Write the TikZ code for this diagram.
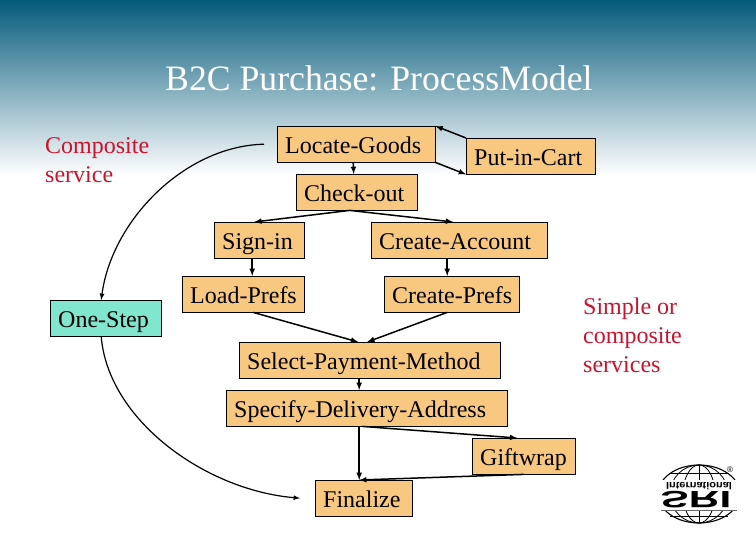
\documentclass[tikz,border=0pt]{standalone}
\usepackage{fontspec}
\setmainfont{Liberation Serif}
\newfontfamily\logofont{Liberation Sans}
\usetikzlibrary{calc,arrows,shapes.geometric}
\definecolor{slidetop}{RGB}{4,90,122}
\definecolor{boxorange}{RGB}{249,200,128}
\definecolor{boxteal}{RGB}{128,230,205}
\definecolor{notered}{RGB}{200,20,45}
\tikzset{
  procbox/.style={draw=black,fill=boxorange,anchor=north west,text width=#1,align=left,
    inner xsep=8pt,inner ysep=0pt,minimum height=36pt,text height=20pt,text depth=2pt,
    font=\fontsize{24}{24}\selectfont},
  stepbox/.style={procbox=#1,fill=boxteal},
  flow/.style={->,>=latex,line width=1.5pt},
  bigflow/.style={->,>=latex,line width=1.2pt},
  note/.style={anchor=north west,align=left,inner sep=0pt,text=notered,font=\fontsize{24}{29}\selectfont}
}
\begin{document}
\begin{tikzpicture}[auto,x=1pt,y=-1pt]
\useasboundingbox (0,0) rectangle (756,540);
\shade [top color=slidetop,bottom color=white] (0,0) rectangle (756,175);
\node [anchor=base west,inner sep=0pt,text=white,font=\fontsize{35.7}{36}\selectfont] (title) at (165,91) {B2C Purchase: ProcessModel};
\node [note] (composite) at (45,137) {Composite\\service};
\node [note] (simple) at (583,298) {Simple or\\composite\\services};
% process boxes
\node [procbox=142pt] (locate) at (277,126) {Locate-Goods};
\node [procbox=113pt] (cart) at (466,138) {Put-in-Cart};
\node [procbox=105pt] (check) at (296,174) {Check-out};
\node [procbox=74pt] (signin) at (214,222) {Sign-in};
\node [procbox=160pt] (account) at (371,222) {Create-Account};
\node [procbox=106pt] (load) at (182,276) {\mbox{Load-Prefs}};
\node [procbox=119pt] (prefs) at (384,276) {\mbox{Create-Prefs}};
\node [stepbox=95pt] (onestep) at (50,300) {One-Step};
\node [procbox=245pt] (payment) at (239,342) {Select-Payment-Method};
\node [procbox=265pt] (delivery) at (226,390) {Specify-Delivery-Address};
\node [procbox=87pt] (gift) at (472,438) {Giftwrap};
\node [procbox=81pt] (final) at (315,480) {Finalize};
% connectors
\draw [flow] (cart.north west) -- (locate.north east);
\draw [flow] (locate.south east) -- (cart.south west);
\draw [flow] ([xshift=-3pt]locate.south) -- ([xshift=-3pt]check.north);
\draw [flow] ([xshift=-7pt]check.south) -- ([xshift=-5pt]signin.north);
\draw [flow] ([xshift=-7pt]check.south) -- ([xshift=-6pt]account.north);
\draw [flow] ([xshift=-7pt]signin.south) -- ([xshift=9pt]load.north);
\draw [flow] ([xshift=-12pt]account.south) -- ([xshift=-4.5pt]prefs.north);
\draw [flow] ([xshift=10pt]load.south) -- ([xshift=-11.5pt]payment.north);
\draw [flow] ([xshift=-4.5pt]prefs.south) -- ([xshift=-2.5pt]payment.north);
\draw [flow] ([xshift=-10.5pt]payment.south) -- ([xshift=-7.5pt]delivery.north);
\draw [flow] ([xshift=-7.5pt]delivery.south) -- ([xshift=-4.5pt]final.north);
\draw [flow] ([xshift=-4.5pt]delivery.south) -- ([xshift=-6.5pt]gift.north);
\draw [flow] (gift.south) -- ([xshift=-4.5pt]final.north);
\coordinate (bendstart) at ($(locate.west)+(-13,0)$);
\coordinate (bendend) at ($(final.west)+(-15,0)$);
\draw [bigflow] (bendstart) .. controls (185,146) and (112,220) .. ([xshift=-4.5pt]onestep.north);
\draw [bigflow] ([xshift=-4.5pt]onestep.south) .. controls (108,420) and (205,490) .. (bendend);
% logo
\begin{scope}[shift={(699,494)}]
\draw [line width=1.1pt] (0,0) ellipse [x radius=41,y radius=29];
\draw [line width=.8pt] (0,0) ellipse [x radius=16,y radius=29];
\draw [line width=.8pt] (0,0) ellipse [x radius=29,y radius=29];
\draw [line width=.8pt] (0,-29) -- (0,29);
\draw [line width=.8pt] (-29,-21) -- (29,-21) (-29,22) -- (29,22);
\fill [white] (-43,-14) rectangle (43,16);
\draw [line width=.8pt,black!60] (-38,16) -- (38,16);
\node [yscale=-1,inner sep=0pt,xscale=1.1,font=\logofont\bfseries\fontsize{10}{10}\selectfont] (intl) at (0,-7.5) {International};
\node [yscale=-1,inner sep=0pt,xscale=1.8,font=\logofont\bfseries\fontsize{23.5}{23.5}\selectfont] (sri) at (-3,6) {SRI};
\node [inner sep=0pt,font=\logofont\fontsize{8}{8}\selectfont] (reg) at (31,-24) {®};
\end{scope}
\end{tikzpicture}
\end{document}
